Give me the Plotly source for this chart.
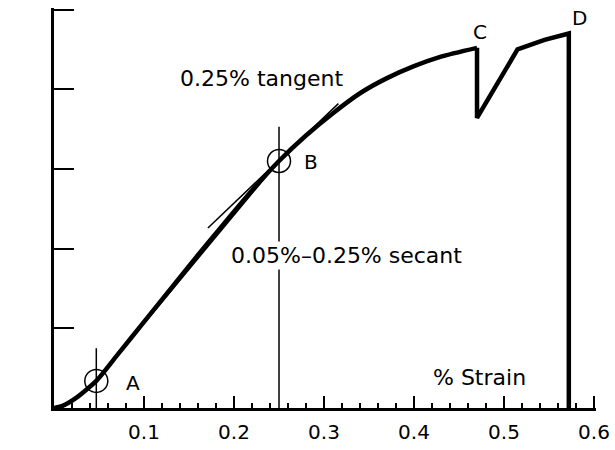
import plotly.graph_objects as go

# ---- data ----
curve_strain = [0, 0.01, 0.025, 0.047, 0.07, 0.10, 0.13, 0.16, 0.19, 0.22, 0.25,
                0.28, 0.31, 0.34, 0.37, 0.40, 0.43, 0.47]
curve_stress = [0, 0.03, 0.13, 0.34, 0.66, 1.08, 1.50, 1.92, 2.33, 2.73, 3.10,
                3.42, 3.70, 3.95, 4.14, 4.29, 4.41, 4.52]
yield_strain = [0.47, 0.47, 0.515, 0.545, 0.572, 0.572]
yield_stress = [4.52, 3.64, 4.50, 4.62, 4.70, 0]

point_strain = [0.047, 0.25]      # A, B
point_stress = [0.34, 3.10]

tangent_strain = [0.171, 0.316]
tangent_stress = [2.26, 3.82]
secant_strain = [0.047, 0.25]
secant_stress = [0.34, 3.10]

vline_a_strain = [0.047, 0.047]
vline_a_stress = [0, 0.75]
vline_b_strain = [0.25, 0.25]
vline_b_stress = [0, 3.53]

x_tickvals = [0.1, 0.2, 0.3, 0.4, 0.5, 0.6]
x_ticktext = ["0.1", "0.2", "0.3", "0.4", "0.5", "0.6"]
y_tickvals = [1, 2, 3, 4, 5]

FONT = "DejaVu Sans"

fig = go.Figure()
thin = dict(color="black", width=1.5)
fig.add_trace(go.Scatter(x=vline_a_strain, y=vline_a_stress, mode="lines", line=thin))
fig.add_trace(go.Scatter(x=vline_b_strain, y=vline_b_stress, mode="lines", line=thin))
fig.add_trace(go.Scatter(x=tangent_strain, y=tangent_stress, mode="lines", line=thin))
fig.add_trace(go.Scatter(x=secant_strain, y=secant_stress, mode="lines", line=thin))
fig.add_trace(go.Scatter(x=curve_strain, y=curve_stress, mode="lines",
                         line=dict(color="black", width=4.5, shape="spline", smoothing=0.6)))
fig.add_trace(go.Scatter(x=yield_strain, y=yield_stress, mode="lines",
                         line=dict(color="black", width=4.5)))
fig.add_trace(go.Scatter(x=point_strain, y=point_stress, mode="markers",
                         marker=dict(symbol="circle-open", size=23, color="black",
                                     line=dict(width=1.5, color="black"))))

def ann(text, x, y, size=22, **kw):
    fig.add_annotation(text=text, x=x, y=y, xref="x", yref="y", showarrow=False,
                       font=dict(family=FONT, size=size, color="black"), **kw)

ann("0.25% tangent", 0.230, 4.13)
ann("0.05%\u20130.25% secant", 0.325, 1.92, bgcolor="white")
ann("% Strain", 0.473, 0.377)
ann("A", 0.0878, 0.314, size=20)
ann("B", 0.2856, 3.09, size=20)
ann("C", 0.473, 4.72, size=20)
ann("D", 0.584, 4.89, size=20)
ann("Stress", -0.0356, 2.42, textangle=-90, size=21)

fig.update_layout(
    width=615, height=450,
    margin=dict(l=54, r=19, t=8, b=42, autoexpand=False),
    paper_bgcolor="white", plot_bgcolor="white",
    showlegend=False,
    font=dict(family=FONT, color="black"),
    xaxis=dict(range=[0, 0.6022], showgrid=False, zeroline=False, automargin=False,
               showline=True, linewidth=3, linecolor="black",
               tickmode="array", tickvals=x_tickvals, ticktext=x_ticktext,
               ticks="inside", ticklen=12, tickwidth=2, tickcolor="black",
               ticklabelstandoff=4,
               tickfont=dict(family=FONT, size=20, color="black"),
               minor=dict(tickmode="linear", tick0=0, dtick=0.02, ticks="inside",
                          ticklen=5, tickwidth=1.5, tickcolor="black", showgrid=False)),
    yaxis=dict(range=[0, 5.02], showgrid=False, zeroline=False, automargin=False,
               showline=True, linewidth=3, linecolor="black",
               tickmode="array", tickvals=y_tickvals, showticklabels=False,
               ticks="inside", ticklen=20, tickwidth=2, tickcolor="black"),
)

fig.write_html("out.html", config={"displayModeBar": False},
               post_script="document.body.style.margin='0';")
